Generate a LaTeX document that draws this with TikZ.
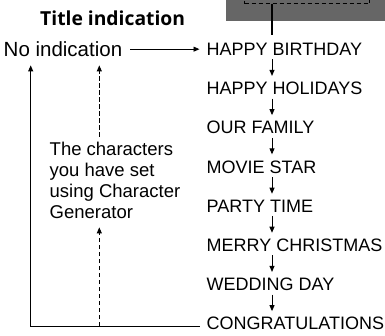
\documentclass[tikz,border=0pt]{standalone}
\usepackage{fontspec}
\setmainfont{Liberation Sans}
\newfontfamily\titlefont{Open Sans}
\usetikzlibrary{arrows.meta}
\definecolor{panelgray}{RGB}{102,102,102}
\begin{document}
\begin{tikzpicture}[x=1pt,y=-1pt,
  item/.style={anchor=base west, inner sep=0pt, font=\fontsize{18}{22}\selectfont},
  arr/.style={-{Triangle[length=6pt,width=5pt]}, line width=0.9pt},
  dashline/.style={dash pattern=on 4.5pt off 2.5pt}]
\useasboundingbox (0,0) rectangle (385,336);
% panel at top right
\fill[panelgray] (226,-10) rectangle (390,21.5);
\node[draw, fill=panelgray, dash pattern=on 4.5pt off 2.5pt, line width=1.3pt, minimum width=125pt, minimum height=20pt, anchor=south west, inner sep=0pt] (scr) at (244,4.5) {};
% titles
\node[anchor=base west, inner sep=0pt, font=\titlefont\bfseries\fontsize{19.3}{21}\selectfont] (title) at (40,25.3) {Title indication};
\node[anchor=base west, inner sep=0pt, font=\fontsize{20.5}{24}\selectfont] (noind) at (3.5,56.5) {No indication};
% list
\node[item] (hb) at (206.5,55.5) {HAPPY BIRTHDAY};
\node[item] (hh) at (206.5,94.7) {HAPPY HOLIDAYS};
\node[item] (of) at (206.5,133.9) {OUR FAMILY};
\node[item] (ms) at (206.5,173.1) {MOVIE STAR};
\node[item] (pt) at (206.5,212.3) {PARTY TIME};
\node[item] (mc) at (206.5,251.5) {MERRY CHRISTMAS};
\node[item] (wd) at (206.5,290.7) {WEDDING DAY};
\node[item] (cg) at (206.5,329.9) {CONGRATULATIONS};
% explanation (base = baseline of last line)
\node[anchor=base west, inner sep=0pt, align=left, font=\fontsize{18.5}{21.3}\selectfont] (chars) at (49.5,219) {The characters\\you have set\\using Character\\Generator};
% helper coordinates
\coordinate (ax) at (272,0);
\coordinate (lx) at (30.7,0);
\coordinate (dx) at (99.3,0);
\coordinate (bend) at ([xshift=-7pt,yshift=-2.5pt]cg.west);
% connectors
\draw[line width=2pt, shorten >=7.7pt] (scr.south -| ax) -- (hb.north -| ax);
\draw[arr, shorten <=8pt, shorten >=7pt] (noind.east) -- (noind.east -| hb.west);
\foreach \a/\b in {hb/hh, hh/of, of/ms, ms/pt, pt/mc, mc/wd, wd/cg}
  \draw[arr, shorten <=3.5pt, shorten >=6pt] (\a.south -| ax) -- (\b.north -| ax);
\draw[arr, shorten >=8.5pt] (bend) -| (noind.south -| lx);
\draw[arr, dashline, shorten <=4.7pt, shorten >=8.5pt] (chars.north -| dx) -- (noind.south -| dx);
\draw[arr, dashline, shorten >=8pt] (bend -| dx) -- (chars.south -| dx);
\end{tikzpicture}
\end{document}
